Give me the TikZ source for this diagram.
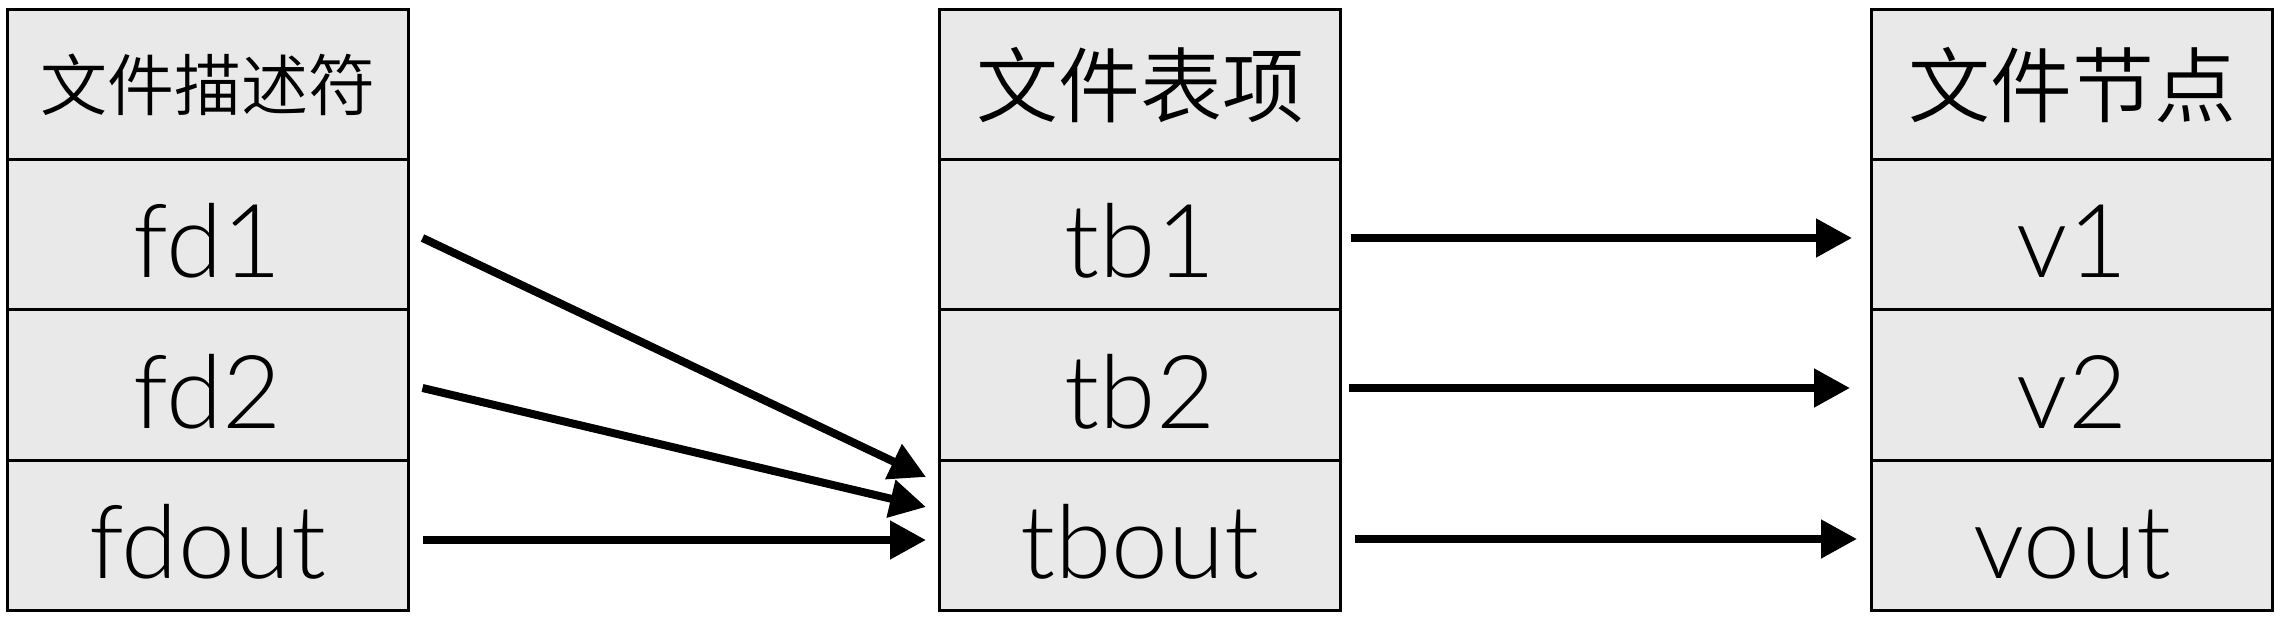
\documentclass[tikz,border=0pt]{standalone}
\usepackage{fontspec}
\setmainfont{Lato}[UprightFont=* Light]
\newfontfamily\cjk{Noto Sans CJK SC}[UprightFont=* DemiLight]
\usetikzlibrary{arrows.meta,calc}
\definecolor{cellfill}{RGB}{233,233,233}
\begin{document}
\begin{tikzpicture}[x=1pt,y=-1pt,
  cell/.style={draw=black, line width=3pt, fill=cellfill, minimum width=401pt,
    minimum height=150pt, inner sep=0pt, anchor=center},
  lat/.style={cell, font=\fontsize{102}{102}\selectfont, text height=86pt, text depth=0pt},
  hdr/.style={cell, font=\cjk\fontsize{#1}{#1}\selectfont},
  arr/.style={line width=8pt, -{Triangle[length=36pt,width=37pt]}}]
\useasboundingbox (0,0) rectangle (2284,620);
% left column
\node[hdr=67] (h1) at (207.5,85) {文件描述符};
\node[lat] (fd1) at (207.5,235) {fd1};
\node[lat] (fd2) at (207.5,385) {fd2};
\node[lat] (fdout) at (207.5,535) {fdout};
% middle column
\node[hdr=82] (h2) at (1140,85) {文件表项};
\node[lat] (tb1) at (1140,235) {tb1};
\node[lat] (tb2) at (1140,385) {tb2};
\node[lat] (tbout) at (1140,535) {tbout};
% right column
\node[hdr=82] (h3) at (2072,85) {文件节点};
\node[lat] (v1) at (2072,235) {v1};
\node[lat] (v2) at (2072,385) {v2};
\node[lat] (vout) at (2072,535) {vout};
% arrows
\draw[arr] ($(fd1.east)+(13,3)$) -- ($(tbout.west)+(-12,-58)$);
\draw[arr] ($(fd2.east)+(13,3)$) -- ($(tbout.west)+(-12,-28)$);
\draw[arr] ($(fdout.east)+(13,5)$) -- ($(tbout.west)+(-12,5)$);
\draw[arr] ($(tb1.east)+(9,3)$) -- ($(v1.west)+(-18,3)$);
\draw[arr] ($(tb2.east)+(7,3)$) -- ($(v2.west)+(-20,3)$);
\draw[arr] ($(tbout.east)+(13,4)$) -- ($(vout.west)+(-13,4)$);
\end{tikzpicture}
\end{document}
